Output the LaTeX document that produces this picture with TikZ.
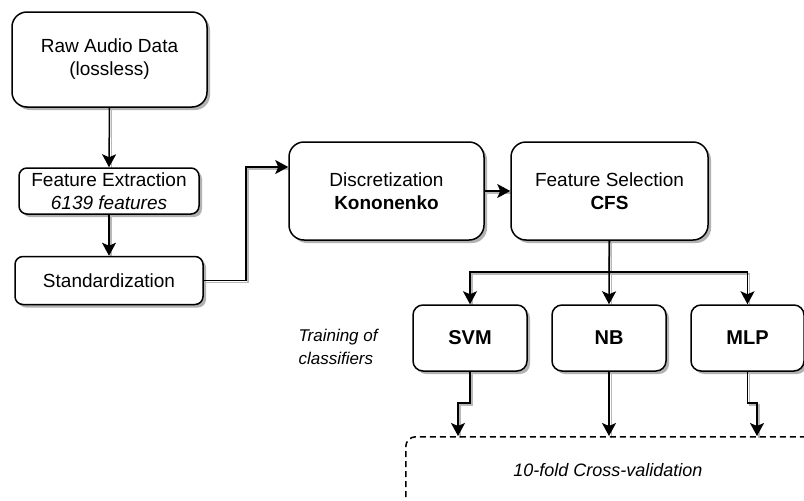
\documentclass[tikz,border=0pt]{standalone}
\usepackage{fontspec}
\setmainfont{Liberation Sans}
\usetikzlibrary{arrows.meta}
\begin{document}
\begin{tikzpicture}[x=1pt,y=-1pt,
  box/.style={draw=black, line width=1.5pt, fill=white, align=center, inner sep=0pt,
    font=\fontsize{19}{23}\selectfont},
  bigbox/.style={box, rounded corners=15pt},
  smallbox/.style={box, rounded corners=8pt},
  clsbox/.style={box, rounded corners=10pt, font=\fontsize{20}{24}\selectfont\bfseries},
  arr/.style={line width=1.5pt, -{Stealth[length=13pt,width=14pt,inset=3pt]}},
  plain/.style={line width=1.5pt},
  eshadow/.style={draw=black!28, line width=1.5pt},
  nshadow/.style={fill=black!30},
]
\useasboundingbox (0,0) rectangle (804,501);
\clip (0,0) rectangle (804,501);
\fill[white] (0,0) rectangle (804,501);

% box shadows
\fill[nshadow, rounded corners=15pt] (109.5,59.5) ++(-94.5,-44.5) rectangle ++(195,95);
\fill[nshadow, rounded corners=8pt] (109,191) ++(-87,-20) rectangle ++(180,46);
\fill[nshadow, rounded corners=8pt] (109,280.5) ++(-91,-21) rectangle ++(188,48);
\fill[nshadow, rounded corners=15pt] (386.5,191) ++(-94.5,-46) rectangle ++(195,98);
\fill[nshadow, rounded corners=15pt] (609.5,191) ++(-95.5,-46) rectangle ++(197,98);
\fill[nshadow, rounded corners=10pt] (470,338) ++(-54,-30) rectangle ++(114,66);
\fill[nshadow, rounded corners=10pt] (609,338) ++(-54,-30) rectangle ++(114,66);
\fill[nshadow, rounded corners=10pt] (747.5,338) ++(-53.5,-30) rectangle ++(113,66);

% connector shadows
\draw[eshadow] (111.5,109) -- (111.5,170);
\draw[eshadow] (111,216) -- (111,258);
\draw[eshadow] (205,282.5) -- (248,282.5) -- (248,169) -- (291,169);
\draw[eshadow] (486,193) -- (513,193);
\draw[eshadow] (611.5,242) -- (611.5,438);
\draw[eshadow] (611,274) -- (472,274) -- (472,307);
\draw[eshadow] (611,274) -- (749.5,274) -- (749.5,307);
\draw[eshadow] (472,373) -- (472,405) -- (460,405) -- (460,438);
\draw[eshadow] (749.5,373) -- (749.5,405) -- (759,405) -- (759,438);

\node[bigbox, minimum width=195pt, minimum height=95pt] (raw) at (109.5,59.5) {Raw Audio Data\\(lossless)};
\node[smallbox, minimum width=180pt, minimum height=46pt] (fe) at (109,191) {Feature Extraction\\\itshape 6139 features};
\node[smallbox, minimum width=188pt, minimum height=48pt] (std) at (109,280.5) {Standardization};
\node[bigbox, minimum width=195pt, minimum height=98pt] (disc) at (386.5,191) {Discretization\\\bfseries Kononenko};
\node[bigbox, minimum width=197pt, minimum height=98pt] (fs) at (609.5,191) {Feature Selection\\\bfseries CFS};
\node[clsbox, minimum width=114pt, minimum height=66pt] (svm) at (470,338) {SVM};
\node[clsbox, minimum width=114pt, minimum height=66pt] (nb) at (609,338) {NB};
\node[clsbox, minimum width=113pt, minimum height=66pt] (mlp) at (747.5,338) {MLP};

\node[draw=black, line width=1.5pt, dash pattern=on 6pt off 4pt, rounded corners=10pt,
  minimum width=440pt, minimum height=100pt, anchor=north west, inner sep=0pt] (cv) at (405,436) {};
\node[font=\fontsize{18}{22}\selectfont\itshape] (cvt) at (608,470) {10-fold Cross-validation};
\node[font=\fontsize{17}{23}\selectfont\itshape, align=left, anchor=west] (train) at (295,346.5) {Training of\\classifiers};

\draw[arr] (raw.south) -- (fe.north);
\draw[arr] (fe.south) -- (std.north);
\draw[arr] (std.east) -- (246,280.5) -- (246,167) -- (disc.west |- 0,167);
\draw[arr] (disc.east) -- (fs.west);
\draw[plain] (fs.south) -- (609,272);
\draw[arr] (609,272) -- (svm.north |- 0,272) -- (svm.north);
\draw[arr] (609,272) -- (mlp.north |- 0,272) -- (mlp.north);
\draw[arr] (fs.south) -- (nb.north);
\draw[arr] (svm.south) -- (470,403) -- (458,403) -- (458,0 |- cv.north);
\draw[arr] (nb.south) -- (609,0 |- cv.north);
\draw[arr] (mlp.south) -- (747.5,403) -- (757,403) -- (757,0 |- cv.north);
\end{tikzpicture}
\end{document}
